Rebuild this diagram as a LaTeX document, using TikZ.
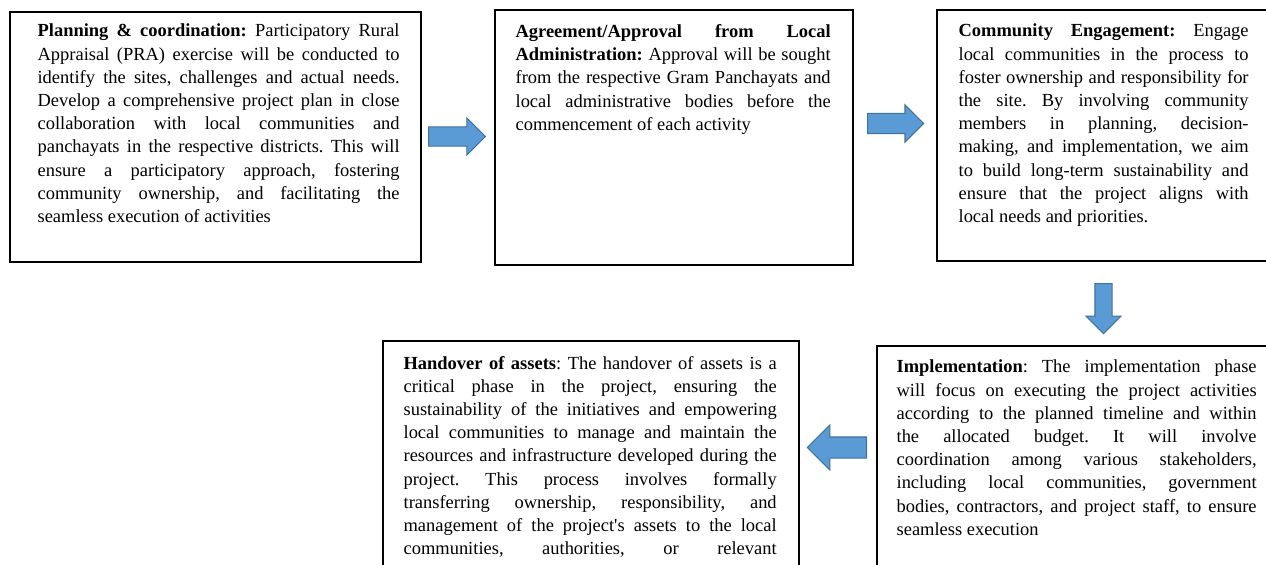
\documentclass[tikz,border=0pt]{standalone}
\usepackage{fontspec}
\setmainfont{Liberation Serif}
\usetikzlibrary{shapes.arrows,fit}

\definecolor{arrowblue}{RGB}{91,155,213}
\definecolor{arrowedge}{RGB}{65,113,156}

\tikzset{
  stepbox/.style={draw=black, line width=0.9pt, inner sep=0pt},
  steptext/.style={anchor=north west, inner sep=0pt, align=justify,
    font=\fontsize{12}{15.1}\selectfont\frenchspacing},
  blockarrow/.style={single arrow, draw=arrowedge, fill=arrowblue,
    line width=0.7pt, inner xsep=0pt, anchor=tail}
}

\begin{document}
\begin{tikzpicture}[x=0.65pt, y=-0.65pt]
  \path[use as bounding box, clip] (0,0) rectangle (1266,564);

  % boxes
  \node[stepbox, fit={(10,12) (421,262)}] (plan) {};
  \node[stepbox, fit={(495,10) (853,265)}] (approval) {};
  \node[stepbox, fit={(937,10) (1280,261)}] (community) {};
  \node[stepbox, fit={(383,341) (799,600)}] (handover) {};
  \node[stepbox, fit={(877,346) (1280,600)}] (implement) {};

  % texts
  \node[steptext, text width=235.3pt] (plantext) at ([shift={(28,12.4)}]plan.north west)
    {\textbf{Planning \& coordination:} Participatory Rural\linebreak
     Appraisal (PRA) exercise will be conducted to\linebreak
     identify the sites, challenges and actual needs.\linebreak
     Develop a comprehensive project plan in close\linebreak
     collaboration with local communities and\linebreak
     panchayats in the respective districts. This will\linebreak
     ensure a participatory approach, fostering\linebreak
     community ownership, and facilitating the\linebreak
     seamless execution of activities};
  \node[steptext, text width=204.8pt] (approvaltext) at ([shift={(21,14.7)}]approval.north west)
    {\textbf{Agreement/Approval from Local\linebreak
     Administration:} Approval will be sought\linebreak
     from the respective Gram Panchayats and\linebreak
     local administrative bodies before the\linebreak
     commencement of each activity};
  \node[steptext, text width=188.5pt] (communitytext) at ([shift={(22,14.4)}]community.north west)
    {\textbf{Community Engagement:} Engage\linebreak
     local communities in the process to\linebreak
     foster ownership and responsibility for\linebreak
     the site. By involving community\linebreak
     members in planning, decision-\linebreak
     making, and implementation, we aim\linebreak
     to build long-term sustainability and\linebreak
     ensure that the project aligns with\linebreak
     local needs and priorities.};
  \node[steptext, text width=234pt] (implementtext) at ([shift={(20,14.4)}]implement.north west)
    {\textbf{Implementation}: The implementation phase\linebreak
     will focus on executing the project activities\linebreak
     according to the planned timeline and within\linebreak
     the allocated budget. It will involve\linebreak
     coordination among various stakeholders,\linebreak
     including local communities, government\linebreak
     bodies, contractors, and project staff, to ensure\linebreak
     seamless execution};
  \node[steptext, text width=242.5pt] (handovertext) at ([shift={(21,15.4)}]handover.north west)
    {\parfillskip=0pt
     \textbf{Handover of assets}: The handover of assets is a\linebreak
     critical phase in the project, ensuring the\linebreak
     sustainability of the initiatives and empowering\linebreak
     local communities to manage and maintain the\linebreak
     resources and infrastructure developed during the\linebreak
     project. This process involves formally\linebreak
     transferring ownership, responsibility, and\linebreak
     management of the project\textquotesingle s assets to the local\linebreak
     communities, authorities, or relevant\par};

  % block arrows
  \node[blockarrow, minimum height=37pt, inner ysep=5.9pt,
    single arrow head extend=5.8pt] (plantoapproval) at (428,136.5) {};
  \node[blockarrow, minimum height=36.4pt, inner ysep=6.2pt,
    single arrow head extend=5.5pt] (approvaltocommunity) at (867,123.5) {};
  \node[blockarrow, shape border rotate=270, minimum height=32.5pt,
    inner xsep=5.2pt, inner ysep=0pt,
    single arrow head extend=5.8pt] (communitytoimplement) at (1103.5,283) {};
  \node[blockarrow, shape border rotate=180, minimum height=38.4pt, inner ysep=6.5pt,
    single arrow head extend=7.8pt] (implementtohandover) at (867,447.5) {};
\end{tikzpicture}
\end{document}
